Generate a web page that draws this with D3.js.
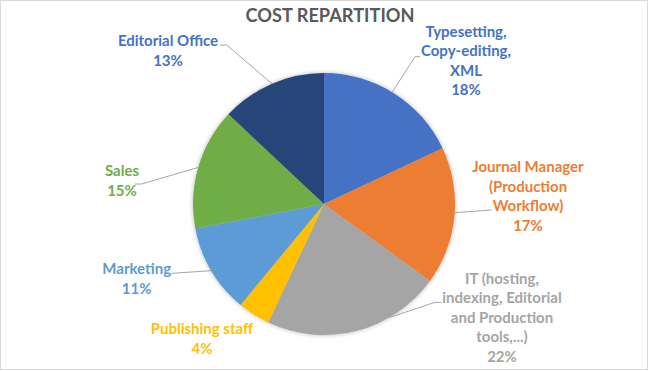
<!DOCTYPE html>
<html><head><meta charset="utf-8">
<script src="https://cdn.jsdelivr.net/npm/d3@7"></script>
<style>html,body{margin:0;padding:0;background:#fff;}svg{display:block;}</style>
</head><body>
<svg id="chart" width="649" height="371"></svg>
<script>
const categories = ["Typesetting, Copy-editing, XML","Journal Manager (Production Workflow)","IT (hosting, indexing, Editorial and Production tools,...)","Publishing staff","Marketing","Sales","Editorial Office"];
const values = [18,17,22,4,11,15,13];
const colors = ["#4472C4","#ED7D31","#A5A5A5","#FFC000","#5B9BD5","#70AD47","#264478"];
const labelColors = ["#4472C4","#ED7D31","#A5A5A5","#FFC000","#5B9BD5","#70AD47","#4472C4"];
const labelLines = [
  ["Typesetting,","Copy-editing,","XML"],
  ["Journal Manager","(Production","Workflow)"],
  ["IT (hosting,","indexing, Editorial","and Production","tools,...)"],
  ["Publishing staff"],
  ["Marketing"],
  ["Sales"],
  ["Editorial Office"]
];
const title = "COST REPARTITION";

// layout
const W=649,H=371,cx=324,cy=204,R=131;
const labelPos = [[466,37,19.4],[528,172,19.7],[502,283.5,19.6],[202,334,19.5],[136.7,273.5,20.5],[122,175.5,20],[168,46,20]];
// leader: [angleDeg on pie edge, points...]
const leaders = [
  [31.4,[[415,56.7],[420,56.7]]],
  [93.8,[[491.7,210]]],
  [150,[[435,302.3],[441.7,302.3]]],
  null,
  [null,[[171.7,273.3]]],
  [null,[[141.7,184],[135,184]]],
  [null,[[226.7,45],[220,45]]]
];

const svg = d3.select("#chart");
const defs = svg.append("defs");
const f = defs.append("filter").attr("id","sh").attr("x","-20%").attr("y","-20%").attr("width","140%").attr("height","140%");
f.append("feDropShadow").attr("dx",0).attr("dy",0).attr("stdDeviation",2).attr("flood-color","#000").attr("flood-opacity",0.3);

svg.append("rect").attr("x",0.5).attr("y",0.5).attr("width",W-2).attr("height",H-2)
  .attr("fill","#fff").attr("stroke","#d9d9d9").attr("stroke-width",1);

svg.append("text").attr("x",330).attr("y",21.7).attr("text-anchor","middle")
  .attr("font-family","Lato, 'Open Sans', sans-serif").attr("font-weight","bold")
  .attr("font-size",18.2).attr("fill","#595959").text(title);

const pie = d3.pie().sort(null).value(d=>d);
const arcs = pie(values);
const arc = d3.arc().innerRadius(0).outerRadius(R);
const g = svg.append("g").attr("transform",`translate(${cx},${cy})`);
g.append("g").attr("filter","url(#sh)").selectAll("path").data(arcs).join("path")
  .attr("d",arc).attr("fill",(d,i)=>colors[i]);

// leaders
const line = d3.line();
arcs.forEach((a,i)=>{
  const L = leaders[i]; if(!L) return;
  const ang = L[0]!==null ? L[0]*Math.PI/180 : (a.startAngle+a.endAngle)/2;
  const p = d3.pointRadial(ang,R);
  const pts = [[cx+p[0],cy+p[1]]].concat(L[1]);
  svg.append("path").attr("d",line(pts)).attr("fill","none").attr("stroke","#a6a6a6").attr("stroke-width",1);
});

// labels
arcs.forEach((a,i)=>{
  const [x,y,lh] = labelPos[i];
  const lines = labelLines[i].concat([d3.format(".0%")(values[i]/d3.sum(values))]);
  const t = svg.append("text").attr("text-anchor","middle")
    .attr("font-family","Lato, 'Open Sans', sans-serif").attr("font-weight","bold")
    .attr("font-size",15).attr("fill",labelColors[i]);
  lines.forEach((s,k)=>t.append("tspan").attr("x",x).attr("y",y+k*lh).text(s));
});
</script>
</body></html>
